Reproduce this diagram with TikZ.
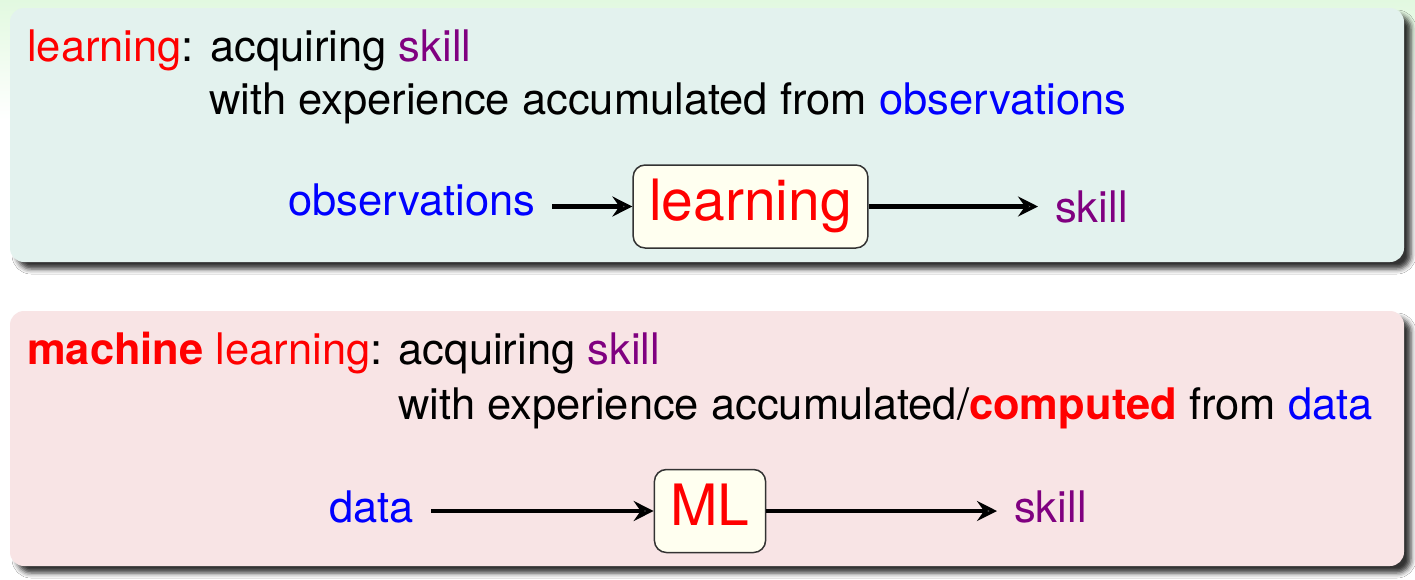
\documentclass[tikz,border=0pt]{standalone}
\usepackage{fontspec}
\setmainfont{TeX Gyre Heros}
\usetikzlibrary{arrows.meta,shadows.blur}
\definecolor{bgtop}{RGB}{226,249,224}
\definecolor{boxA}{RGB}{227,242,238}
\definecolor{boxB}{RGB}{248,228,229}
\definecolor{nodefill}{RGB}{255,255,240}
\definecolor{skillc}{RGB}{128,0,128}
\definecolor{obsc}{RGB}{0,0,255}
\definecolor{redc}{RGB}{255,0,0}
\tikzset{
  blockbox/.style={rounded corners=14pt, draw=none,
    blur shadow={shadow xshift=7pt, shadow yshift=-7pt, shadow blur radius=5pt, shadow opacity=80}},
  txt/.style={inner sep=0pt, anchor=base west, font=\fontsize{43.5pt}{52pt}\selectfont},
  lbl/.style={inner xsep=17pt, inner ysep=0pt, anchor=base west, font=\fontsize{43.5pt}{52pt}\selectfont},
  proc/.style={draw=black!80, line width=1.5pt, fill=nodefill, rounded corners=12pt,
    text=redc, font=\fontsize{57pt}{64pt}\selectfont, text height=41pt, text depth=13pt,
    inner xsep=16pt, minimum height=83pt},
  arr/.style={line width=4.5pt, -{Stealth[length=20pt,width=20pt,inset=7pt]}}
}
\begin{document}
\begin{tikzpicture}[x=1pt,y=-1pt]
\useasboundingbox (0,0) rectangle (1415,579);
\fill[white] (0,0) rectangle (1415,579);
\shade[top color=bgtop, bottom color=white] (0,0) rectangle (1415,120);
% boxes
\path[blockbox, fill=boxA] (10,8) rectangle (1404,262);
\path[blockbox, fill=boxB] (10,311) rectangle (1404,566);
% top block text
\node[txt] (t1) at (27,61) {{\color{redc}learning}: acquiring {\color{skillc}skill}};
\node[txt] (t2) at (209,114) {with experience accumulated from {\color{obsc}observations}};
\node[lbl, text=obsc] (obs) at (271,215) {observations};
\node[proc] (learn) at (750.5,206.5) {learning};
\node[lbl, text=skillc] (skill1) at (1038,222) {skill};
\draw[arr] (obs.east |- learn.west) -- (learn.west);
\draw[arr] (learn.east) -- (skill1.west |- learn.east);
% bottom block text
\node[txt] (m1) at (27,364) {{\color{redc}\bfseries machine} {\color{redc}learning}: acquiring {\color{skillc}skill}};
\node[txt] (m2) at (398,419) {with experience accumulated/{\color{redc}\bfseries computed} from {\color{obsc}data}};
\node[lbl, text=obsc] (data) at (312,522) {data};
\node[proc] (ml) at (710,511) {ML};
\node[lbl, text=skillc] (skill2) at (997,522) {skill};
\draw[arr] (data.east |- ml.west) -- (ml.west);
\draw[arr] (ml.east) -- (skill2.west |- ml.east);
\end{tikzpicture}
\end{document}
